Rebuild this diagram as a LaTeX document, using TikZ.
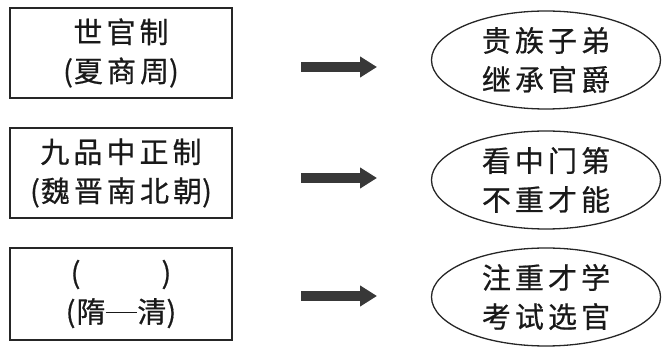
\documentclass[tikz,border=0pt]{standalone}
\usepackage{fontspec}
\newfontfamily\cjk[LetterSpace=14,FakeBold=0.6]{Noto Sans CJK SC}
\newfontfamily\cjkn[FakeBold=0.6]{Noto Sans CJK SC}
\newcommand{\lp}{{\cjkn(}\hspace{1pt}}
\newcommand{\rp}{{\cjkn)}}
\usetikzlibrary{shapes.geometric,arrows.meta}
\tikzset{
  txt/.style={font=\cjk\fontsize{29}{39}\selectfont, align=center, text=black!90},
  era/.style={txt, draw=black!85, line width=1.3pt, minimum width=222pt, minimum height=90pt, inner sep=0pt},
  res/.style={txt, ellipse, draw=black!85, line width=1.3pt, minimum width=229pt, minimum height=98pt, inner sep=0pt},
  bigarrow/.style={draw=black!78, line width=10.5pt, -{Triangle[length=17pt,width=20pt]}}
}
\begin{document}
\begin{tikzpicture}
\useasboundingbox (0pt,0pt) rectangle (669pt,-352pt);
\node[era] (b1) at (121pt,-53pt) {世官制\\\lp 夏商周\rp};
\node[era] (b2) at (121pt,-173pt) {九品中正制\\\lp 魏晋南北朝\rp};
\node[era, minimum height=92pt] (b3) at (121pt,-294pt) {\lp\hspace{80pt}\rp\\\lp 隋\rule[0.33em]{1.1em}{1.3pt}清\rp};
\node[res] (e1) at (546pt,-60pt) {贵族子弟\\继承官爵};
\node[res] (e2) at (546pt,-180pt) {看中门第\\不重才能};
\node[res] (e3) at (546pt,-297pt) {注重才学\\考试选官};
\coordinate (s1) at (301pt,-67pt);
\coordinate (t1) at (377pt,-67pt);
\coordinate (s2) at (301pt,-178pt);
\coordinate (t2) at (377pt,-178pt);
\coordinate (s3) at (301pt,-296pt);
\coordinate (t3) at (377pt,-296pt);
\draw[bigarrow] (s1) -- (t1);
\draw[bigarrow] (s2) -- (t2);
\draw[bigarrow] (s3) -- (t3);
\end{tikzpicture}
\end{document}
